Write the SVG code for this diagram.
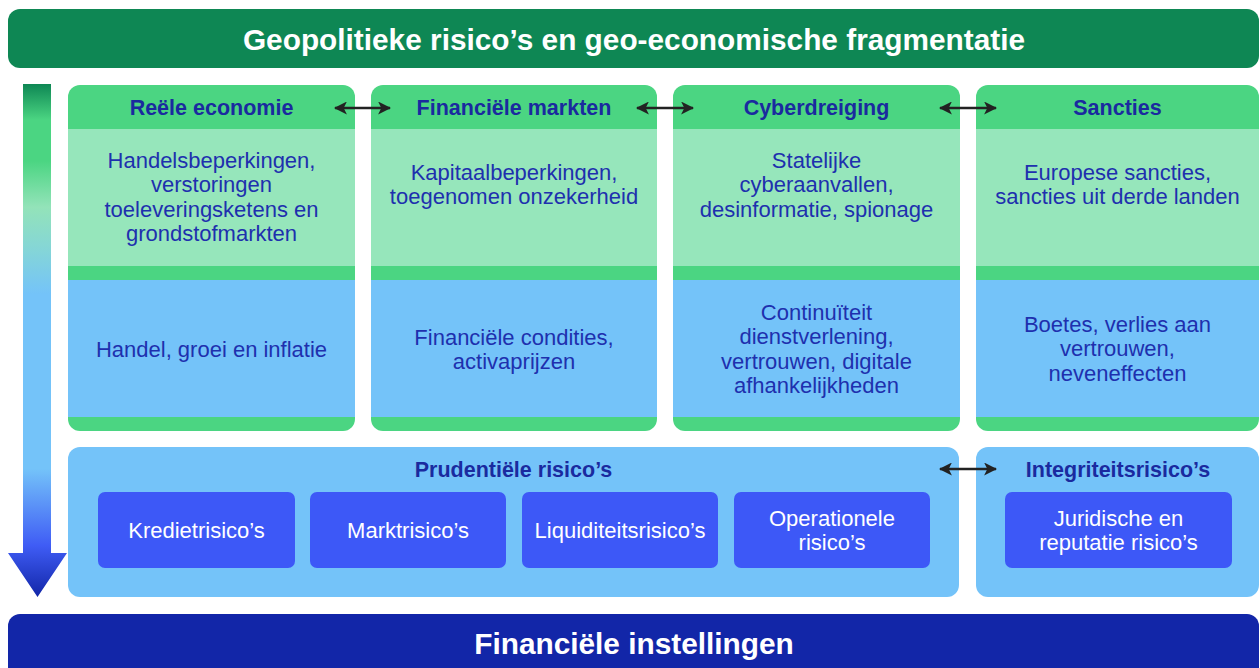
<svg xmlns="http://www.w3.org/2000/svg" width="1260" height="668" viewBox="0 0 1260 668">
  <style>
    .banner-text { font-family: "Liberation Sans", Arial, sans-serif; font-weight: 700; font-size: 29.8px; fill: #ffffff; text-anchor: middle; }
    .head { font-family: "Liberation Sans", Arial, sans-serif; font-weight: 700; font-size: 21.5px; fill: #1a2a9f; text-anchor: middle; }
    .body { font-family: "Liberation Sans", Arial, sans-serif; font-size: 22px; fill: #1e30ae; text-anchor: middle; }
    .risk { font-family: "Liberation Sans", Arial, sans-serif; font-size: 22px; fill: #ffffff; text-anchor: middle; }
    .col-frame { fill: #4bd582; }
    .col-top { fill: #96e6bb; }
    .col-bottom { fill: #74c3f9; }
    .panel { fill: #74c3f9; }
    .risk-box { fill: #3d58f7; }
    .link { stroke: #222222; stroke-width: 2.5; fill: none; marker-start: url(#tip); marker-end: url(#tip); }
  </style>
  <defs>
    <linearGradient id="flow" x1="0" y1="84" x2="0" y2="597" gradientUnits="userSpaceOnUse">
      <stop offset="0" stop-color="#0e8754"/>
      <stop offset="0.07" stop-color="#4bd582"/>
      <stop offset="0.15" stop-color="#4bd582"/>
      <stop offset="0.24" stop-color="#93e3b9"/>
      <stop offset="0.32" stop-color="#85d6d6"/>
      <stop offset="0.41" stop-color="#74c3f9"/>
      <stop offset="0.75" stop-color="#74c3f9"/>
      <stop offset="0.9" stop-color="#3f5cf5"/>
      <stop offset="1" stop-color="#1226a8"/>
    </linearGradient>
    <marker id="tip" viewBox="0 0 12 12" refX="11" refY="6" markerWidth="13" markerHeight="13" markerUnits="userSpaceOnUse" orient="auto-start-reverse">
      <path d="M0,0 L12,6 L0,12 L3,6 z" fill="#222222"/>
    </marker>
  </defs>

  <!-- top banner -->
  <g id="banner-top">
    <rect x="8" y="9" width="1251" height="59" rx="12" fill="#0e8754"/>
    <text class="banner-text" x="634" y="49.5">Geopolitieke risico’s en geo-economische fragmentatie</text>
  </g>

  <!-- flow arrow on the left -->
  <g id="flow-arrow">
    <path d="M23,84 H51 V553 H67 L37.5,597 L8,553 H23 Z" fill="url(#flow)"/>
  </g>

  <!-- column: real economy -->
  <g id="col-reele-economie">
    <rect class="col-frame" x="68" y="85" width="287" height="346" rx="12"/>
    <rect class="col-top" x="68" y="129" width="287" height="137"/>
    <rect class="col-bottom" x="68" y="280" width="287" height="137"/>
    <text class="head" x="211.5" y="115">Reële economie</text>
    <text class="body" x="211.5" y="168">Handelsbeperkingen,<tspan x="211.5" dy="24.3">verstoringen</tspan><tspan x="211.5" dy="24.3">toeleveringsketens en</tspan><tspan x="211.5" dy="24.3">grondstofmarkten</tspan></text>
    <text class="body" x="211.5" y="357">Handel, groei en inflatie</text>
  </g>

  <!-- column: financial markets -->
  <g id="col-financiele-markten">
    <rect class="col-frame" x="371" y="85" width="286" height="346" rx="12"/>
    <rect class="col-top" x="371" y="129" width="286" height="137"/>
    <rect class="col-bottom" x="371" y="280" width="286" height="137"/>
    <text class="head" x="514" y="115">Financiële markten</text>
    <text class="body" x="514" y="180">Kapitaalbeperkingen,<tspan x="514" dy="24.3">toegenomen onzekerheid</tspan></text>
    <text class="body" x="514" y="345">Financiële condities,<tspan x="514" dy="24.3">activaprijzen</tspan></text>
  </g>

  <!-- column: cyber threat -->
  <g id="col-cyberdreiging">
    <rect class="col-frame" x="673" y="85" width="287" height="346" rx="12"/>
    <rect class="col-top" x="673" y="129" width="287" height="137"/>
    <rect class="col-bottom" x="673" y="280" width="287" height="137"/>
    <text class="head" x="816.5" y="115">Cyberdreiging</text>
    <text class="body" x="816.5" y="168">Statelijke<tspan x="816.5" dy="24.3">cyberaanvallen,</tspan><tspan x="816.5" dy="24.3">desinformatie, spionage</tspan></text>
    <text class="body" x="816.5" y="320">Continuïteit<tspan x="816.5" dy="24.3">dienstverlening,</tspan><tspan x="816.5" dy="24.3">vertrouwen, digitale</tspan><tspan x="816.5" dy="24.3">afhankelijkheden</tspan></text>
  </g>

  <!-- column: sanctions -->
  <g id="col-sancties">
    <rect class="col-frame" x="976" y="85" width="283" height="346" rx="12"/>
    <rect class="col-top" x="976" y="129" width="283" height="137"/>
    <rect class="col-bottom" x="976" y="280" width="283" height="137"/>
    <text class="head" x="1117.5" y="115">Sancties</text>
    <text class="body" x="1117.5" y="180">Europese sancties,<tspan x="1117.5" dy="24.3">sancties uit derde landen</tspan></text>
    <text class="body" x="1117.5" y="332">Boetes, verlies aan<tspan x="1117.5" dy="24.3">vertrouwen,</tspan><tspan x="1117.5" dy="24.3">neveneffecten</tspan></text>
  </g>

  <!-- prudential risks panel -->
  <g id="prudentiele-risicos">
    <rect class="panel" x="68" y="447" width="891" height="150" rx="12"/>
    <text class="head" x="513.5" y="477">Prudentiële risico’s</text>
    <g id="kredietrisico">
      <rect class="risk-box" x="98" y="492" width="197" height="76" rx="7"/>
      <text class="risk" x="196.5" y="538">Kredietrisico’s</text>
    </g>
    <g id="marktrisico">
      <rect class="risk-box" x="310" y="492" width="196" height="76" rx="7"/>
      <text class="risk" x="408" y="538">Marktrisico’s</text>
    </g>
    <g id="liquiditeitsrisico">
      <rect class="risk-box" x="522" y="492" width="196" height="76" rx="7"/>
      <text class="risk" x="620" y="538">Liquiditeitsrisico’s</text>
    </g>
    <g id="operationele-risicos">
      <rect class="risk-box" x="734" y="492" width="196" height="76" rx="7"/>
      <text class="risk" x="832" y="526">Operationele<tspan x="832" dy="24.3">risico’s</tspan></text>
    </g>
  </g>

  <!-- integrity risks panel -->
  <g id="integriteitsrisicos">
    <rect class="panel" x="976" y="447" width="283" height="150" rx="12"/>
    <text class="head" x="1118" y="477">Integriteitsrisico’s</text>
    <g id="juridisch-reputatie">
      <rect class="risk-box" x="1005" y="492" width="227" height="76" rx="7"/>
      <text class="risk" x="1118.5" y="526">Juridische en<tspan x="1118.5" dy="24.3">reputatie risico’s</tspan></text>
    </g>
  </g>

  <!-- bottom banner -->
  <g id="banner-bottom">
    <rect x="8" y="614" width="1251" height="70" rx="12" fill="#1226a8"/>
    <text class="banner-text" x="634" y="654">Financiële instellingen</text>
  </g>

  <!-- two-way links between neighbouring blocks -->
  <g id="connectors">
    <line class="link" x1="335" y1="108" x2="390" y2="108"/>
    <line class="link" x1="637" y1="108" x2="693" y2="108"/>
    <line class="link" x1="940" y1="108" x2="996" y2="108"/>
    <line class="link" x1="940" y1="469" x2="996" y2="469"/>
  </g>
</svg>
